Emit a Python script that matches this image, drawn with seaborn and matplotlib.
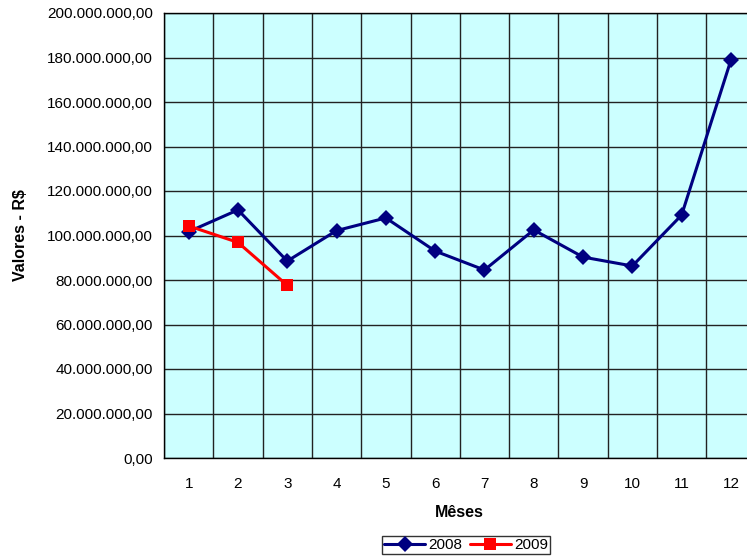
import pandas as pd
import matplotlib.pyplot as plt
import matplotlib.ticker as mticker
import seaborn as sns

# dados
meses = ['1', '2', '3', '4', '5', '6', '7', '8', '9', '10', '11', '12']
valores_2008 = [101.7e6, 111.5e6, 88.5e6, 102.2e6, 107.9e6, 93.0e6,
                84.5e6, 102.5e6, 90.3e6, 86.3e6, 109.2e6, 178.9e6]
valores_2009 = [104.3e6, 96.9e6, 77.6e6]

df = pd.DataFrame({
    'pos': list(range(len(valores_2008))) + list(range(len(valores_2009))),
    'valor': valores_2008 + valores_2009,
    'ano': ['2008'] * len(valores_2008) + ['2009'] * len(valores_2009),
})

sns.set_style('white')
plt.rcParams['font.family'] = ['Liberation Sans', 'DejaVu Sans']
plt.rcParams['text.color'] = 'black'
plt.rcParams['axes.labelcolor'] = 'black'
plt.rcParams['xtick.color'] = 'black'
plt.rcParams['ytick.color'] = 'black'

fig = plt.figure(figsize=(7.47, 5.6), dpi=100)
ax = fig.add_axes([164 / 747, 102 / 560, 591.6 / 747, 445 / 560])
ax.set_facecolor('#ccffff')

sns.lineplot(data=df, x='pos', y='valor', hue='ano', style='ano',
             palette={'2008': '#000080', '2009': '#ff0000'},
             markers={'2008': 'D', '2009': 's'}, dashes=False,
             markersize=8.5, linewidth=2.2, markeredgewidth=0, ax=ax)

ax.set_xlim(-0.5, 11.5)
ax.set_ylim(0, 200e6)
ax.yaxis.set_major_locator(mticker.MultipleLocator(20e6))
ax.yaxis.set_major_formatter(mticker.FuncFormatter(
    lambda v, p: f'{v:,.2f}'.replace(',', 'X').replace('.', ',').replace('X', '.')))
ax.set_xticks(range(12))
ax.set_xticklabels(meses)
ax.set_xticks([i + 0.5 for i in range(-1, 12)], minor=True)
ax.tick_params(axis='x', which='major', length=0, pad=14, labelsize=11)
ax.tick_params(axis='x', which='minor', length=5, width=1, color='black', direction='out')
ax.tick_params(axis='y', length=5, width=1, color='black', direction='out', labelsize=11, pad=3)
ax.grid(True, axis='y', which='major', color='#222222', linewidth=1)
ax.grid(True, axis='x', which='minor', color='#222222', linewidth=1)
ax.set_axisbelow(True)
for s in ax.spines.values():
    s.set_color('black')
    s.set_linewidth(1)

ax.set_xlabel('Mêses', fontweight='bold', fontsize=11.5, labelpad=10)
ax.set_ylabel('Valores - R$', fontweight='bold', fontsize=11.5, labelpad=14)

ax.legend_.remove()
h, l = ax.get_legend_handles_labels()
leg = fig.legend(h, l, loc='center', bbox_to_anchor=(466 / 747, 15 / 560), ncol=2,
                 frameon=True, fancybox=False, edgecolor='black', fontsize=11,
                 handlelength=2.7, columnspacing=0.5, handletextpad=0.2,
                 borderpad=0.15, borderaxespad=0)
leg.get_frame().set_linewidth(1)

fig.savefig('out.png', dpi=100)
